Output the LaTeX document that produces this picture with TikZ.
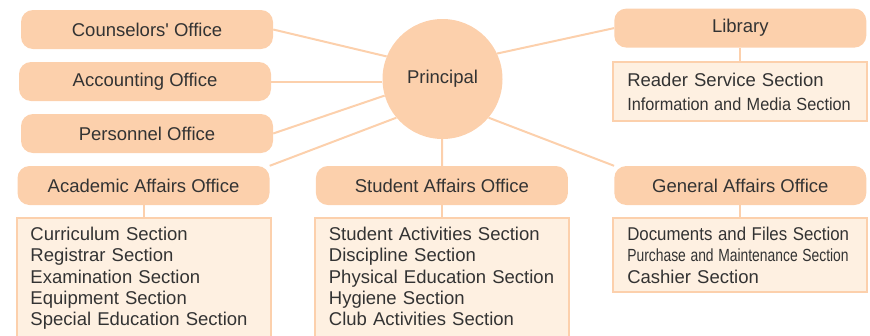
\documentclass[tikz,border=0pt]{standalone}
\usepackage{fontspec}
\setmainfont{Liberation Sans}
\usepackage{graphicx}
\usetikzlibrary{positioning}

\definecolor{peach}{HTML}{FCD0AC}
\definecolor{cream}{HTML}{FEF0E1}
\definecolor{ink}{HTML}{333333}
\newcommand{\squeezed}[3]{\scalebox{#1}[#2]{#3}}

\tikzset{
  office/.style={rectangle, rounded corners=12pt, fill=peach, text=ink, minimum width=252pt, minimum height=39pt, inner sep=0pt, font=\fontsize{18.5}{21.3}\selectfont},
  sections/.style={rectangle, draw=peach, line width=2pt, fill=cream, text=ink, text width=226pt, inner xsep=14pt, inner ysep=9pt, align=left, font=\fontsize{18.5}{21.3}\selectfont},
  cutoff/.style={text depth=100pt},
  link/.style={draw=peach, line width=2pt}
}

\begin{document}
\begin{tikzpicture}[x=1pt, y=1pt, node distance=52pt]
        \useasboundingbox (0,0) rectangle (870,-335);
        \clip (0,0) rectangle (870,-335);

        \node (principal) [circle, fill=peach, text=ink, minimum size=120pt, inner sep=0pt, font=\fontsize{18.5}{21.3}\selectfont] at (442.5,-79) {Principal};

        \node (counselors) [office] at (147,-29.5) {Counselors\textquotesingle\ Office};
        \node (accounting) [office, below of=counselors, xshift=-2pt] {Accounting Office};
        \node (personnel) [office, below of=accounting, xshift=2pt] {Personnel Office};
        \node (academic) [office, below of=personnel, xshift=-3.5pt] {Academic Affairs Office};
        \node (student) [office, right=46pt of academic] {Student Affairs Office};
        \node (general) [office, right=46pt of student] {General Affairs Office};
        \node (library) [office, above=118pt of general] {Library};

        \node (acadlist) [sections, cutoff, below=12pt of academic] {Curriculum Section\\ Registrar Section\\ Examination Section\\ Equipment Section\\ Special Education Section};
        \node (studlist) [sections, cutoff, below=12pt of student] {Student Activities Section\\ Discipline Section\\ Physical Education Section\\ Hygiene Section\\ Club Activities Section};
        \node (genlist) [sections, below=12pt of general] {\squeezed{0.91}{1}{Documents and Files Section}\\ \squeezed{0.75}{0.95}{Purchase and Maintenance Section}\\ Cashier Section};
        \node (liblist) [sections, inner ysep=11pt, below=13pt of library] {Reader Service Section\\[2.7pt] \squeezed{0.88}{0.95}{Information and Media Section}};

        \draw[link] (counselors.east) -- (principal.158);
        \draw[link] (accounting.east) -- (accounting.east -| principal.west);
        \draw[link] (personnel.east) -- (principal.196);
        \draw[link] (academic.north east) -- (principal.220);
        \draw[link] (principal) -- (student);
        \draw[link] (principal.25) -- (library.west);
        \draw[link] (principal.320) -- (general.north west);

        \foreach \office/\list in {academic/acadlist, student/studlist, general/genlist, library/liblist}
            \draw[link] (\office) -- (\list);
    \end{tikzpicture}
\end{document}
